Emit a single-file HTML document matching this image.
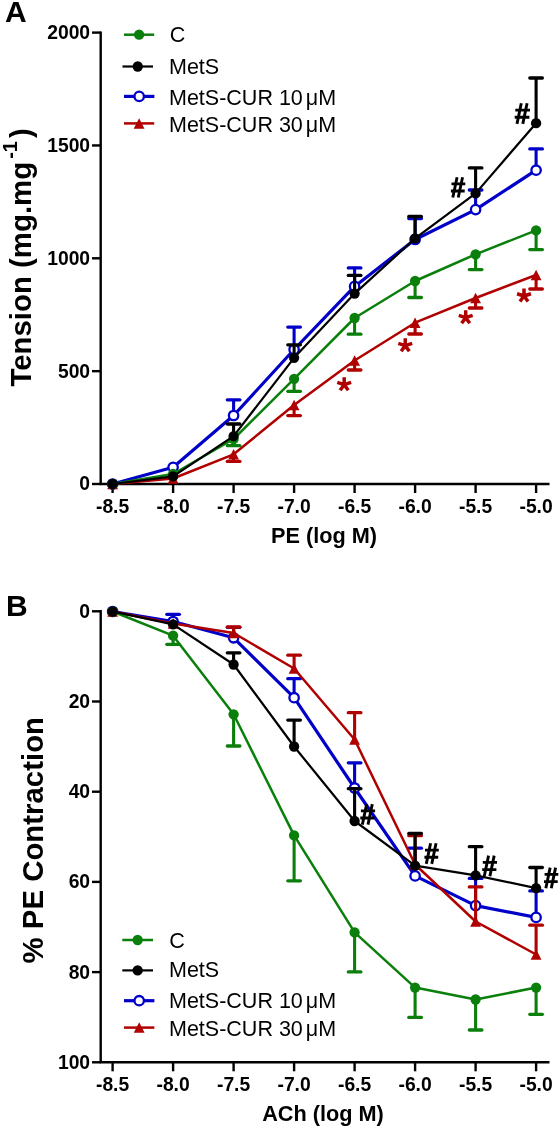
<!DOCTYPE html>
<html><head><meta charset="utf-8"><style>
html,body{margin:0;padding:0;background:#fff;}
body{width:560px;height:1128px;overflow:hidden;}
svg{display:block;will-change:transform;}
text{font-family:"Liberation Sans",sans-serif;}
.tk{font-weight:bold;font-size:19.3px;}
.lg{font-size:21.5px;}
.pl{font-weight:bold;font-size:30px;}
.yl{font-weight:bold;font-size:29.4px;}
.sup{font-weight:bold;font-size:20px;}
.xl{font-weight:bold;font-size:21.7px;}
.st{font-weight:bold;font-size:36px;}
.hs{font-weight:bold;font-size:30px;}
</style></head><body>
<svg width="560" height="1128" viewBox="0 0 560 1128">
<text x="5" y="21.5" class="pl">A</text>
<text x="6" y="615.5" class="pl">B</text>
<line x1="100.7" y1="31.400000000000002" x2="100.7" y2="484" stroke="#000" stroke-width="2.4"/>
<line x1="99.5" y1="484" x2="549.5" y2="484" stroke="#000" stroke-width="2.4"/>
<line x1="92" y1="32.6" x2="100.7" y2="32.6" stroke="#000" stroke-width="2.4"/>
<text x="90.1" y="39.0" class="tk" text-anchor="end">2000</text>
<line x1="92" y1="145.45" x2="100.7" y2="145.45" stroke="#000" stroke-width="2.4"/>
<text x="90.1" y="151.85" class="tk" text-anchor="end">1500</text>
<line x1="92" y1="258.3" x2="100.7" y2="258.3" stroke="#000" stroke-width="2.4"/>
<text x="90.1" y="264.7" class="tk" text-anchor="end">1000</text>
<line x1="92" y1="371.15" x2="100.7" y2="371.15" stroke="#000" stroke-width="2.4"/>
<text x="90.1" y="377.54999999999995" class="tk" text-anchor="end">500</text>
<line x1="92" y1="484" x2="100.7" y2="484" stroke="#000" stroke-width="2.4"/>
<text x="90.1" y="490.4" class="tk" text-anchor="end">0</text>
<line x1="112.60" y1="484" x2="112.60" y2="493" stroke="#000" stroke-width="2.4"/>
<text x="112.60" y="512.5" class="tk" text-anchor="middle">-8.5</text>
<line x1="173.10" y1="484" x2="173.10" y2="493" stroke="#000" stroke-width="2.4"/>
<text x="173.10" y="512.5" class="tk" text-anchor="middle">-8.0</text>
<line x1="233.60" y1="484" x2="233.60" y2="493" stroke="#000" stroke-width="2.4"/>
<text x="233.60" y="512.5" class="tk" text-anchor="middle">-7.5</text>
<line x1="294.10" y1="484" x2="294.10" y2="493" stroke="#000" stroke-width="2.4"/>
<text x="294.10" y="512.5" class="tk" text-anchor="middle">-7.0</text>
<line x1="354.60" y1="484" x2="354.60" y2="493" stroke="#000" stroke-width="2.4"/>
<text x="354.60" y="512.5" class="tk" text-anchor="middle">-6.5</text>
<line x1="415.10" y1="484" x2="415.10" y2="493" stroke="#000" stroke-width="2.4"/>
<text x="415.10" y="512.5" class="tk" text-anchor="middle">-6.0</text>
<line x1="475.60" y1="484" x2="475.60" y2="493" stroke="#000" stroke-width="2.4"/>
<text x="475.60" y="512.5" class="tk" text-anchor="middle">-5.5</text>
<line x1="536.10" y1="484" x2="536.10" y2="493" stroke="#000" stroke-width="2.4"/>
<text x="536.10" y="512.5" class="tk" text-anchor="middle">-5.0</text>
<text transform="translate(30.9,386.6) rotate(-90)" class="yl">Tension (mg.mg</text>
<text transform="translate(17.1,158.8) rotate(-90)" class="sup">-1</text>
<text transform="translate(30.9,138) rotate(-90)" class="yl">)</text>
<text x="324" y="543" class="xl" text-anchor="middle">PE (log M)</text>
<line x1="124" y1="34.7" x2="154.2" y2="34.7" stroke="#0b7f0b" stroke-width="2.5"/>
<circle cx="139.10" cy="34.70" r="5.15" fill="#0b7f0b"/>
<text x="169.8" y="41.6" class="lg">C</text>
<line x1="122.5" y1="66.5" x2="153" y2="66.5" stroke="#000000" stroke-width="2.2"/>
<circle cx="137.75" cy="66.50" r="5.15" fill="#000000"/>
<text x="169" y="73.7" class="lg">MetS</text>
<line x1="124" y1="96.4" x2="154.4" y2="96.4" stroke="#0000c8" stroke-width="3.2"/>
<circle cx="139.20" cy="96.40" r="4.7" fill="#fff" stroke="#0000c8" stroke-width="2.3"/>
<text x="169" y="105" class="lg">MetS-CUR 10<tspan dx="3">μ</tspan>M</text>
<line x1="124" y1="123.4" x2="154.2" y2="123.4" stroke="#b00000" stroke-width="2.5"/>
<path d="M139.10,118.15 L144.50,128.65 L133.70,128.65Z" fill="#b00000"/>
<text x="169" y="132" class="lg">MetS-CUR 30<tspan dx="3">μ</tspan>M</text>
<polyline points="112.60,484.00 173.10,467.30 233.60,415.50 294.10,349.50 354.60,286.40 415.10,239.50 475.60,209.60 536.10,170.20" fill="none" stroke="#0000c8" stroke-width="3.2" stroke-linejoin="round"/>


<line x1="233.60" y1="415.50" x2="233.60" y2="399.80" stroke="#0000c8" stroke-width="3.1"/><line x1="227.30" y1="399.80" x2="239.90" y2="399.80" stroke="#0000c8" stroke-width="3.3" stroke-linecap="round"/>
<line x1="294.10" y1="349.50" x2="294.10" y2="327.10" stroke="#0000c8" stroke-width="3.1"/><line x1="287.80" y1="327.10" x2="300.40" y2="327.10" stroke="#0000c8" stroke-width="3.3" stroke-linecap="round"/>
<line x1="354.60" y1="286.40" x2="354.60" y2="267.90" stroke="#0000c8" stroke-width="3.1"/><line x1="348.30" y1="267.90" x2="360.90" y2="267.90" stroke="#0000c8" stroke-width="3.3" stroke-linecap="round"/>
<line x1="415.10" y1="239.50" x2="415.10" y2="218.50" stroke="#0000c8" stroke-width="3.1"/><line x1="408.80" y1="218.50" x2="421.40" y2="218.50" stroke="#0000c8" stroke-width="3.3" stroke-linecap="round"/>
<line x1="475.60" y1="209.60" x2="475.60" y2="190.00" stroke="#0000c8" stroke-width="3.1"/><line x1="469.30" y1="190.00" x2="481.90" y2="190.00" stroke="#0000c8" stroke-width="3.3" stroke-linecap="round"/>
<line x1="536.10" y1="170.20" x2="536.10" y2="148.90" stroke="#0000c8" stroke-width="3.1"/><line x1="529.80" y1="148.90" x2="542.40" y2="148.90" stroke="#0000c8" stroke-width="3.3" stroke-linecap="round"/>
<circle cx="112.60" cy="484.00" r="4.7" fill="#fff" stroke="#0000c8" stroke-width="2.3"/>
<circle cx="173.10" cy="467.30" r="4.7" fill="#fff" stroke="#0000c8" stroke-width="2.3"/>
<circle cx="233.60" cy="415.50" r="4.7" fill="#fff" stroke="#0000c8" stroke-width="2.3"/>
<circle cx="294.10" cy="349.50" r="4.7" fill="#fff" stroke="#0000c8" stroke-width="2.3"/>
<circle cx="354.60" cy="286.40" r="4.7" fill="#fff" stroke="#0000c8" stroke-width="2.3"/>
<circle cx="415.10" cy="239.50" r="4.7" fill="#fff" stroke="#0000c8" stroke-width="2.3"/>
<circle cx="475.60" cy="209.60" r="4.7" fill="#fff" stroke="#0000c8" stroke-width="2.3"/>
<circle cx="536.10" cy="170.20" r="4.7" fill="#fff" stroke="#0000c8" stroke-width="2.3"/>
<polyline points="112.60,484.00 173.10,478.50 233.60,454.30 294.10,405.00 354.60,360.50 415.10,322.70 475.60,298.00 536.10,275.00" fill="none" stroke="#b00000" stroke-width="2.5" stroke-linejoin="round"/>


<line x1="233.60" y1="454.30" x2="233.60" y2="461.40" stroke="#b00000" stroke-width="3.1"/><line x1="227.30" y1="461.40" x2="239.90" y2="461.40" stroke="#b00000" stroke-width="3.3" stroke-linecap="round"/>
<line x1="294.10" y1="405.00" x2="294.10" y2="415.60" stroke="#b00000" stroke-width="3.1"/><line x1="287.80" y1="415.60" x2="300.40" y2="415.60" stroke="#b00000" stroke-width="3.3" stroke-linecap="round"/>
<line x1="354.60" y1="360.50" x2="354.60" y2="370.00" stroke="#b00000" stroke-width="3.1"/><line x1="348.30" y1="370.00" x2="360.90" y2="370.00" stroke="#b00000" stroke-width="3.3" stroke-linecap="round"/>
<line x1="415.10" y1="322.70" x2="415.10" y2="334.00" stroke="#b00000" stroke-width="3.1"/><line x1="408.80" y1="334.00" x2="421.40" y2="334.00" stroke="#b00000" stroke-width="3.3" stroke-linecap="round"/>
<line x1="475.60" y1="298.00" x2="475.60" y2="308.00" stroke="#b00000" stroke-width="3.1"/><line x1="469.30" y1="308.00" x2="481.90" y2="308.00" stroke="#b00000" stroke-width="3.3" stroke-linecap="round"/>
<line x1="536.10" y1="275.00" x2="536.10" y2="289.00" stroke="#b00000" stroke-width="3.1"/><line x1="529.80" y1="289.00" x2="542.40" y2="289.00" stroke="#b00000" stroke-width="3.3" stroke-linecap="round"/>
<path d="M112.60,478.75 L118.00,489.25 L107.20,489.25Z" fill="#b00000"/>
<path d="M173.10,473.25 L178.50,483.75 L167.70,483.75Z" fill="#b00000"/>
<path d="M233.60,449.05 L239.00,459.55 L228.20,459.55Z" fill="#b00000"/>
<path d="M294.10,399.75 L299.50,410.25 L288.70,410.25Z" fill="#b00000"/>
<path d="M354.60,355.25 L360.00,365.75 L349.20,365.75Z" fill="#b00000"/>
<path d="M415.10,317.45 L420.50,327.95 L409.70,327.95Z" fill="#b00000"/>
<path d="M475.60,292.75 L481.00,303.25 L470.20,303.25Z" fill="#b00000"/>
<path d="M536.10,269.75 L541.50,280.25 L530.70,280.25Z" fill="#b00000"/>
<polyline points="112.60,484.00 173.10,474.00 233.60,439.00 294.10,378.80 354.60,318.00 415.10,281.00 475.60,254.30 536.10,230.40" fill="none" stroke="#0b7f0b" stroke-width="2.5" stroke-linejoin="round"/>


<line x1="233.60" y1="439.00" x2="233.60" y2="445.70" stroke="#0b7f0b" stroke-width="3.1"/><line x1="227.30" y1="445.70" x2="239.90" y2="445.70" stroke="#0b7f0b" stroke-width="3.3" stroke-linecap="round"/>
<line x1="294.10" y1="378.80" x2="294.10" y2="391.30" stroke="#0b7f0b" stroke-width="3.1"/><line x1="287.80" y1="391.30" x2="300.40" y2="391.30" stroke="#0b7f0b" stroke-width="3.3" stroke-linecap="round"/>
<line x1="354.60" y1="318.00" x2="354.60" y2="334.20" stroke="#0b7f0b" stroke-width="3.1"/><line x1="348.30" y1="334.20" x2="360.90" y2="334.20" stroke="#0b7f0b" stroke-width="3.3" stroke-linecap="round"/>
<line x1="415.10" y1="281.00" x2="415.10" y2="297.50" stroke="#0b7f0b" stroke-width="3.1"/><line x1="408.80" y1="297.50" x2="421.40" y2="297.50" stroke="#0b7f0b" stroke-width="3.3" stroke-linecap="round"/>
<line x1="475.60" y1="254.30" x2="475.60" y2="269.60" stroke="#0b7f0b" stroke-width="3.1"/><line x1="469.30" y1="269.60" x2="481.90" y2="269.60" stroke="#0b7f0b" stroke-width="3.3" stroke-linecap="round"/>
<line x1="536.10" y1="230.40" x2="536.10" y2="249.60" stroke="#0b7f0b" stroke-width="3.1"/><line x1="529.80" y1="249.60" x2="542.40" y2="249.60" stroke="#0b7f0b" stroke-width="3.3" stroke-linecap="round"/>
<circle cx="112.60" cy="484.00" r="5.15" fill="#0b7f0b"/>
<circle cx="173.10" cy="474.00" r="5.15" fill="#0b7f0b"/>
<circle cx="233.60" cy="439.00" r="5.15" fill="#0b7f0b"/>
<circle cx="294.10" cy="378.80" r="5.15" fill="#0b7f0b"/>
<circle cx="354.60" cy="318.00" r="5.15" fill="#0b7f0b"/>
<circle cx="415.10" cy="281.00" r="5.15" fill="#0b7f0b"/>
<circle cx="475.60" cy="254.30" r="5.15" fill="#0b7f0b"/>
<circle cx="536.10" cy="230.40" r="5.15" fill="#0b7f0b"/>
<polyline points="112.60,484.00 173.10,476.40 233.60,436.10 294.10,357.80 354.60,293.60 415.10,238.40 475.60,193.40 536.10,123.20" fill="none" stroke="#000000" stroke-width="2.2" stroke-linejoin="round"/>


<line x1="233.60" y1="436.10" x2="233.60" y2="424.00" stroke="#000000" stroke-width="3.1"/><line x1="227.30" y1="424.00" x2="239.90" y2="424.00" stroke="#000000" stroke-width="3.3" stroke-linecap="round"/>
<line x1="294.10" y1="357.80" x2="294.10" y2="344.80" stroke="#000000" stroke-width="3.1"/><line x1="287.80" y1="344.80" x2="300.40" y2="344.80" stroke="#000000" stroke-width="3.3" stroke-linecap="round"/>
<line x1="354.60" y1="293.60" x2="354.60" y2="275.40" stroke="#000000" stroke-width="3.1"/><line x1="348.30" y1="275.40" x2="360.90" y2="275.40" stroke="#000000" stroke-width="3.3" stroke-linecap="round"/>
<line x1="415.10" y1="238.40" x2="415.10" y2="216.40" stroke="#000000" stroke-width="3.1"/><line x1="408.80" y1="216.40" x2="421.40" y2="216.40" stroke="#000000" stroke-width="3.3" stroke-linecap="round"/>
<line x1="475.60" y1="193.40" x2="475.60" y2="167.90" stroke="#000000" stroke-width="3.1"/><line x1="469.30" y1="167.90" x2="481.90" y2="167.90" stroke="#000000" stroke-width="3.3" stroke-linecap="round"/>
<line x1="536.10" y1="123.20" x2="536.10" y2="78.00" stroke="#000000" stroke-width="3.1"/><line x1="529.80" y1="78.00" x2="542.40" y2="78.00" stroke="#000000" stroke-width="3.3" stroke-linecap="round"/>
<circle cx="112.60" cy="484.00" r="5.15" fill="#000000"/>
<circle cx="173.10" cy="476.40" r="5.15" fill="#000000"/>
<circle cx="233.60" cy="436.10" r="5.15" fill="#000000"/>
<circle cx="294.10" cy="357.80" r="5.15" fill="#000000"/>
<circle cx="354.60" cy="293.60" r="5.15" fill="#000000"/>
<circle cx="415.10" cy="238.40" r="5.15" fill="#000000"/>
<circle cx="475.60" cy="193.40" r="5.15" fill="#000000"/>
<circle cx="536.10" cy="123.20" r="5.15" fill="#000000"/>
<path d="M344.20,384.70 L344.20,377.30 M344.20,384.70 L351.14,382.44 M344.20,384.70 L348.26,390.28 M344.20,384.70 L340.14,390.28 M344.20,384.70 L337.26,382.44 " stroke="#b00000" stroke-width="3.5" fill="none"/>
<path d="M405.25,345.60 L405.25,338.20 M405.25,345.60 L412.19,343.34 M405.25,345.60 L409.31,351.18 M405.25,345.60 L401.19,351.18 M405.25,345.60 L398.31,343.34 " stroke="#b00000" stroke-width="3.5" fill="none"/>
<path d="M465.70,317.70 L465.70,310.30 M465.70,317.70 L472.64,315.44 M465.70,317.70 L469.76,323.28 M465.70,317.70 L461.64,323.28 M465.70,317.70 L458.76,315.44 " stroke="#b00000" stroke-width="3.5" fill="none"/>
<path d="M524.00,296.00 L524.00,288.60 M524.00,296.00 L530.94,293.74 M524.00,296.00 L528.06,301.58 M524.00,296.00 L519.94,301.58 M524.00,296.00 L517.06,293.74 " stroke="#b00000" stroke-width="3.5" fill="none"/>
<path d="M457.09,177.20 L452.79,197.50 M462.56,177.20 L458.26,197.50 M451.50,183.90 L465.30,183.90 M450.90,191.00 L464.70,191.00 " stroke="#000" stroke-width="2.9" fill="none"/>
<path d="M521.28,103.30 L516.98,123.90 M527.09,103.30 L522.79,123.90 M515.30,110.10 L530.00,110.10 M514.70,117.31 L529.40,117.31 " stroke="#000" stroke-width="2.9" fill="none"/>
<line x1="100.7" y1="610.0999999999999" x2="100.7" y2="1062.3" stroke="#000" stroke-width="2.4"/>
<line x1="99.5" y1="1062.3" x2="549.5" y2="1062.3" stroke="#000" stroke-width="2.4"/>
<line x1="92" y1="611.3" x2="100.7" y2="611.3" stroke="#000" stroke-width="2.4"/>
<text x="90.1" y="617.6999999999999" class="tk" text-anchor="end">0</text>
<line x1="92" y1="701.5" x2="100.7" y2="701.5" stroke="#000" stroke-width="2.4"/>
<text x="90.1" y="707.9" class="tk" text-anchor="end">20</text>
<line x1="92" y1="791.7" x2="100.7" y2="791.7" stroke="#000" stroke-width="2.4"/>
<text x="90.1" y="798.1" class="tk" text-anchor="end">40</text>
<line x1="92" y1="881.9" x2="100.7" y2="881.9" stroke="#000" stroke-width="2.4"/>
<text x="90.1" y="888.3" class="tk" text-anchor="end">60</text>
<line x1="92" y1="972.1" x2="100.7" y2="972.1" stroke="#000" stroke-width="2.4"/>
<text x="90.1" y="978.5" class="tk" text-anchor="end">80</text>
<line x1="92" y1="1062.3" x2="100.7" y2="1062.3" stroke="#000" stroke-width="2.4"/>
<text x="90.1" y="1068.7" class="tk" text-anchor="end">100</text>
<line x1="112.60" y1="1062.3" x2="112.60" y2="1071.3" stroke="#000" stroke-width="2.4"/>
<text x="112.60" y="1090.8" class="tk" text-anchor="middle">-8.5</text>
<line x1="173.10" y1="1062.3" x2="173.10" y2="1071.3" stroke="#000" stroke-width="2.4"/>
<text x="173.10" y="1090.8" class="tk" text-anchor="middle">-8.0</text>
<line x1="233.60" y1="1062.3" x2="233.60" y2="1071.3" stroke="#000" stroke-width="2.4"/>
<text x="233.60" y="1090.8" class="tk" text-anchor="middle">-7.5</text>
<line x1="294.10" y1="1062.3" x2="294.10" y2="1071.3" stroke="#000" stroke-width="2.4"/>
<text x="294.10" y="1090.8" class="tk" text-anchor="middle">-7.0</text>
<line x1="354.60" y1="1062.3" x2="354.60" y2="1071.3" stroke="#000" stroke-width="2.4"/>
<text x="354.60" y="1090.8" class="tk" text-anchor="middle">-6.5</text>
<line x1="415.10" y1="1062.3" x2="415.10" y2="1071.3" stroke="#000" stroke-width="2.4"/>
<text x="415.10" y="1090.8" class="tk" text-anchor="middle">-6.0</text>
<line x1="475.60" y1="1062.3" x2="475.60" y2="1071.3" stroke="#000" stroke-width="2.4"/>
<text x="475.60" y="1090.8" class="tk" text-anchor="middle">-5.5</text>
<line x1="536.10" y1="1062.3" x2="536.10" y2="1071.3" stroke="#000" stroke-width="2.4"/>
<text x="536.10" y="1090.8" class="tk" text-anchor="middle">-5.0</text>
<text transform="translate(42.5,963.5) rotate(-90)" class="yl">% PE Contraction</text>
<text x="323" y="1121.4" class="xl" text-anchor="middle">ACh (log M)</text>
<line x1="122.3" y1="940" x2="153" y2="940" stroke="#0b7f0b" stroke-width="2.5"/>
<circle cx="137.65" cy="940.00" r="5.15" fill="#0b7f0b"/>
<text x="169.3" y="947.5" class="lg">C</text>
<line x1="122.3" y1="970.4" x2="153" y2="970.4" stroke="#000000" stroke-width="2.2"/>
<circle cx="137.65" cy="970.40" r="5.15" fill="#000000"/>
<text x="169" y="976.8" class="lg">MetS</text>
<line x1="124" y1="1000.7" x2="154.4" y2="1000.7" stroke="#0000c8" stroke-width="3.2"/>
<circle cx="139.20" cy="1000.70" r="4.7" fill="#fff" stroke="#0000c8" stroke-width="2.3"/>
<text x="169" y="1008.3" class="lg">MetS-CUR 10<tspan dx="3">μ</tspan>M</text>
<line x1="124" y1="1027.6" x2="154.4" y2="1027.6" stroke="#b00000" stroke-width="2.5"/>
<path d="M139.20,1022.35 L144.60,1032.85 L133.80,1032.85Z" fill="#b00000"/>
<text x="169" y="1036" class="lg">MetS-CUR 30<tspan dx="3">μ</tspan>M</text>
<polyline points="112.60,611.50 173.10,621.50 233.60,637.80 294.10,697.70 354.60,788.00 415.10,875.90 475.60,905.60 536.10,917.40" fill="none" stroke="#0000c8" stroke-width="3.2" stroke-linejoin="round"/>

<line x1="173.10" y1="621.50" x2="173.10" y2="614.30" stroke="#0000c8" stroke-width="3.1"/><line x1="166.80" y1="614.30" x2="179.40" y2="614.30" stroke="#0000c8" stroke-width="3.3" stroke-linecap="round"/>
<line x1="233.60" y1="637.80" x2="233.60" y2="627.30" stroke="#0000c8" stroke-width="3.1"/><line x1="227.30" y1="627.30" x2="239.90" y2="627.30" stroke="#0000c8" stroke-width="3.3" stroke-linecap="round"/>
<line x1="294.10" y1="697.70" x2="294.10" y2="678.70" stroke="#0000c8" stroke-width="3.1"/><line x1="287.80" y1="678.70" x2="300.40" y2="678.70" stroke="#0000c8" stroke-width="3.3" stroke-linecap="round"/>
<line x1="354.60" y1="788.00" x2="354.60" y2="762.80" stroke="#0000c8" stroke-width="3.1"/><line x1="348.30" y1="762.80" x2="360.90" y2="762.80" stroke="#0000c8" stroke-width="3.3" stroke-linecap="round"/>
<line x1="415.10" y1="875.90" x2="415.10" y2="848.20" stroke="#0000c8" stroke-width="3.1"/><line x1="408.80" y1="848.20" x2="421.40" y2="848.20" stroke="#0000c8" stroke-width="3.3" stroke-linecap="round"/>
<line x1="475.60" y1="905.60" x2="475.60" y2="878.40" stroke="#0000c8" stroke-width="3.1"/><line x1="469.30" y1="878.40" x2="481.90" y2="878.40" stroke="#0000c8" stroke-width="3.3" stroke-linecap="round"/>
<line x1="536.10" y1="917.40" x2="536.10" y2="890.90" stroke="#0000c8" stroke-width="3.1"/><line x1="529.80" y1="890.90" x2="542.40" y2="890.90" stroke="#0000c8" stroke-width="3.3" stroke-linecap="round"/>
<circle cx="112.60" cy="611.50" r="4.7" fill="#fff" stroke="#0000c8" stroke-width="2.3"/>
<circle cx="173.10" cy="621.50" r="4.7" fill="#fff" stroke="#0000c8" stroke-width="2.3"/>
<circle cx="233.60" cy="637.80" r="4.7" fill="#fff" stroke="#0000c8" stroke-width="2.3"/>
<circle cx="294.10" cy="697.70" r="4.7" fill="#fff" stroke="#0000c8" stroke-width="2.3"/>
<circle cx="354.60" cy="788.00" r="4.7" fill="#fff" stroke="#0000c8" stroke-width="2.3"/>
<circle cx="415.10" cy="875.90" r="4.7" fill="#fff" stroke="#0000c8" stroke-width="2.3"/>
<circle cx="475.60" cy="905.60" r="4.7" fill="#fff" stroke="#0000c8" stroke-width="2.3"/>
<circle cx="536.10" cy="917.40" r="4.7" fill="#fff" stroke="#0000c8" stroke-width="2.3"/>
<polyline points="112.60,611.50 173.10,623.50 233.60,633.00 294.10,668.50 354.60,739.50 415.10,864.50 475.60,921.50 536.10,954.50" fill="none" stroke="#b00000" stroke-width="2.5" stroke-linejoin="round"/>


<line x1="233.60" y1="633.00" x2="233.60" y2="627.00" stroke="#b00000" stroke-width="3.1"/><line x1="227.30" y1="627.00" x2="239.90" y2="627.00" stroke="#b00000" stroke-width="3.3" stroke-linecap="round"/>
<line x1="294.10" y1="668.50" x2="294.10" y2="655.20" stroke="#b00000" stroke-width="3.1"/><line x1="287.80" y1="655.20" x2="300.40" y2="655.20" stroke="#b00000" stroke-width="3.3" stroke-linecap="round"/>
<line x1="354.60" y1="739.50" x2="354.60" y2="712.70" stroke="#b00000" stroke-width="3.1"/><line x1="348.30" y1="712.70" x2="360.90" y2="712.70" stroke="#b00000" stroke-width="3.3" stroke-linecap="round"/>
<line x1="415.10" y1="864.50" x2="415.10" y2="835.70" stroke="#b00000" stroke-width="3.1"/><line x1="408.80" y1="835.70" x2="421.40" y2="835.70" stroke="#b00000" stroke-width="3.3" stroke-linecap="round"/>
<line x1="475.60" y1="921.50" x2="475.60" y2="886.90" stroke="#b00000" stroke-width="3.1"/><line x1="469.30" y1="886.90" x2="481.90" y2="886.90" stroke="#b00000" stroke-width="3.3" stroke-linecap="round"/>
<line x1="536.10" y1="954.50" x2="536.10" y2="925.20" stroke="#b00000" stroke-width="3.1"/><line x1="529.80" y1="925.20" x2="542.40" y2="925.20" stroke="#b00000" stroke-width="3.3" stroke-linecap="round"/>
<path d="M112.60,606.25 L118.00,616.75 L107.20,616.75Z" fill="#b00000"/>
<path d="M173.10,618.25 L178.50,628.75 L167.70,628.75Z" fill="#b00000"/>
<path d="M233.60,627.75 L239.00,638.25 L228.20,638.25Z" fill="#b00000"/>
<path d="M294.10,663.25 L299.50,673.75 L288.70,673.75Z" fill="#b00000"/>
<path d="M354.60,734.25 L360.00,744.75 L349.20,744.75Z" fill="#b00000"/>
<path d="M415.10,859.25 L420.50,869.75 L409.70,869.75Z" fill="#b00000"/>
<path d="M475.60,916.25 L481.00,926.75 L470.20,926.75Z" fill="#b00000"/>
<path d="M536.10,949.25 L541.50,959.75 L530.70,959.75Z" fill="#b00000"/>
<polyline points="112.60,611.50 173.10,635.70 233.60,714.30 294.10,835.40 354.60,932.40 415.10,987.60 475.60,999.50 536.10,987.60" fill="none" stroke="#0b7f0b" stroke-width="2.5" stroke-linejoin="round"/>

<line x1="173.10" y1="635.70" x2="173.10" y2="644.30" stroke="#0b7f0b" stroke-width="3.1"/><line x1="166.80" y1="644.30" x2="179.40" y2="644.30" stroke="#0b7f0b" stroke-width="3.3" stroke-linecap="round"/>
<line x1="233.60" y1="714.30" x2="233.60" y2="746.00" stroke="#0b7f0b" stroke-width="3.1"/><line x1="227.30" y1="746.00" x2="239.90" y2="746.00" stroke="#0b7f0b" stroke-width="3.3" stroke-linecap="round"/>
<line x1="294.10" y1="835.40" x2="294.10" y2="880.80" stroke="#0b7f0b" stroke-width="3.1"/><line x1="287.80" y1="880.80" x2="300.40" y2="880.80" stroke="#0b7f0b" stroke-width="3.3" stroke-linecap="round"/>
<line x1="354.60" y1="932.40" x2="354.60" y2="971.90" stroke="#0b7f0b" stroke-width="3.1"/><line x1="348.30" y1="971.90" x2="360.90" y2="971.90" stroke="#0b7f0b" stroke-width="3.3" stroke-linecap="round"/>
<line x1="415.10" y1="987.60" x2="415.10" y2="1017.40" stroke="#0b7f0b" stroke-width="3.1"/><line x1="408.80" y1="1017.40" x2="421.40" y2="1017.40" stroke="#0b7f0b" stroke-width="3.3" stroke-linecap="round"/>
<line x1="475.60" y1="999.50" x2="475.60" y2="1030.00" stroke="#0b7f0b" stroke-width="3.1"/><line x1="469.30" y1="1030.00" x2="481.90" y2="1030.00" stroke="#0b7f0b" stroke-width="3.3" stroke-linecap="round"/>
<line x1="536.10" y1="987.60" x2="536.10" y2="1014.30" stroke="#0b7f0b" stroke-width="3.1"/><line x1="529.80" y1="1014.30" x2="542.40" y2="1014.30" stroke="#0b7f0b" stroke-width="3.3" stroke-linecap="round"/>
<circle cx="112.60" cy="611.50" r="5.15" fill="#0b7f0b"/>
<circle cx="173.10" cy="635.70" r="5.15" fill="#0b7f0b"/>
<circle cx="233.60" cy="714.30" r="5.15" fill="#0b7f0b"/>
<circle cx="294.10" cy="835.40" r="5.15" fill="#0b7f0b"/>
<circle cx="354.60" cy="932.40" r="5.15" fill="#0b7f0b"/>
<circle cx="415.10" cy="987.60" r="5.15" fill="#0b7f0b"/>
<circle cx="475.60" cy="999.50" r="5.15" fill="#0b7f0b"/>
<circle cx="536.10" cy="987.60" r="5.15" fill="#0b7f0b"/>
<polyline points="112.60,611.50 173.10,624.30 233.60,664.50 294.10,746.50 354.60,821.00 415.10,865.60 475.60,875.30 536.10,888.10" fill="none" stroke="#000000" stroke-width="2.2" stroke-linejoin="round"/>


<line x1="233.60" y1="664.50" x2="233.60" y2="652.80" stroke="#000000" stroke-width="3.1"/><line x1="227.30" y1="652.80" x2="239.90" y2="652.80" stroke="#000000" stroke-width="3.3" stroke-linecap="round"/>
<line x1="294.10" y1="746.50" x2="294.10" y2="720.10" stroke="#000000" stroke-width="3.1"/><line x1="287.80" y1="720.10" x2="300.40" y2="720.10" stroke="#000000" stroke-width="3.3" stroke-linecap="round"/>
<line x1="354.60" y1="821.00" x2="354.60" y2="788.70" stroke="#000000" stroke-width="3.1"/><line x1="348.30" y1="788.70" x2="360.90" y2="788.70" stroke="#000000" stroke-width="3.3" stroke-linecap="round"/>
<line x1="415.10" y1="865.60" x2="415.10" y2="833.50" stroke="#000000" stroke-width="3.1"/><line x1="408.80" y1="833.50" x2="421.40" y2="833.50" stroke="#000000" stroke-width="3.3" stroke-linecap="round"/>
<line x1="475.60" y1="875.30" x2="475.60" y2="846.70" stroke="#000000" stroke-width="3.1"/><line x1="469.30" y1="846.70" x2="481.90" y2="846.70" stroke="#000000" stroke-width="3.3" stroke-linecap="round"/>
<line x1="536.10" y1="888.10" x2="536.10" y2="867.50" stroke="#000000" stroke-width="3.1"/><line x1="529.80" y1="867.50" x2="542.40" y2="867.50" stroke="#000000" stroke-width="3.3" stroke-linecap="round"/>
<circle cx="112.60" cy="611.50" r="5.15" fill="#000000"/>
<circle cx="173.10" cy="624.30" r="5.15" fill="#000000"/>
<circle cx="233.60" cy="664.50" r="5.15" fill="#000000"/>
<circle cx="294.10" cy="746.50" r="5.15" fill="#000000"/>
<circle cx="354.60" cy="821.00" r="5.15" fill="#000000"/>
<circle cx="415.10" cy="865.60" r="5.15" fill="#000000"/>
<circle cx="475.60" cy="875.30" r="5.15" fill="#000000"/>
<circle cx="536.10" cy="888.10" r="5.15" fill="#000000"/>
<path d="M366.66,804.10 L362.36,824.60 M372.29,804.10 L367.99,824.60 M360.90,810.87 L375.10,810.87 M360.30,818.04 L374.50,818.04 " stroke="#000" stroke-width="2.9" fill="none"/>
<path d="M430.59,843.30 L426.29,863.90 M436.06,843.30 L431.76,863.90 M425.00,850.10 L438.80,850.10 M424.40,857.31 L438.20,857.31 " stroke="#000" stroke-width="2.9" fill="none"/>
<path d="M488.56,855.60 L484.26,876.20 M494.19,855.60 L489.89,876.20 M482.80,862.40 L497.00,862.40 M482.20,869.61 L496.40,869.61 " stroke="#000" stroke-width="2.9" fill="none"/>
<path d="M550.15,867.60 L545.85,888.20 M555.58,867.60 L551.28,888.20 M544.60,874.40 L558.30,874.40 M544.00,881.61 L557.70,881.61 " stroke="#000" stroke-width="2.9" fill="none"/>
</svg>
</body></html>
